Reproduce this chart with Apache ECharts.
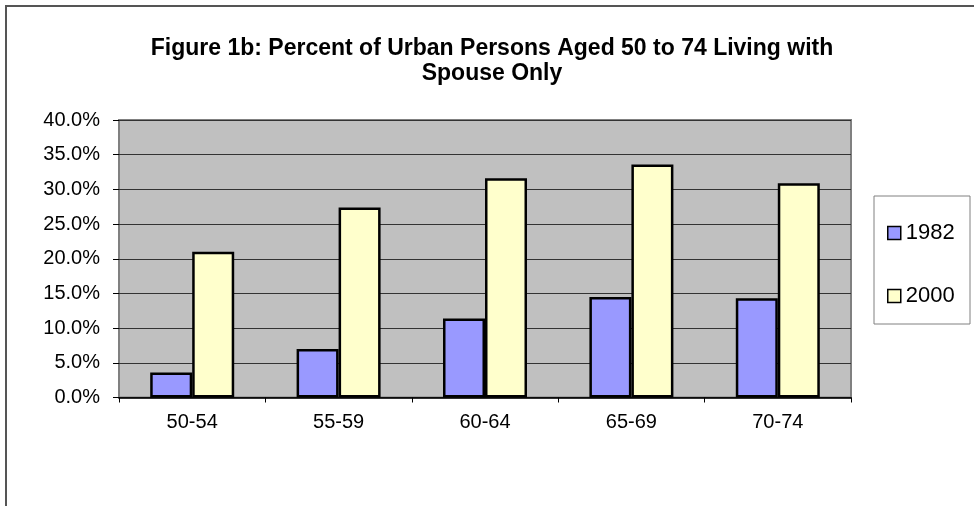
<!DOCTYPE html>
<html>
<head>
<meta charset="utf-8">
<script src="https://cdn.jsdelivr.net/npm/echarts@6/dist/echarts.min.js"></script>
<style>html,body{margin:0;padding:0;background:#fff;}#c{width:974px;height:506px;}</style>
</head>
<body>
<div id="c"></div>
<script>
const categories = ['50-54', '55-59', '60-64', '65-69', '70-74'];
const series1982 = [3.6, 7.0, 11.4, 14.5, 14.3];
const series2000 = [21.0, 27.4, 31.6, 33.6, 30.9];
const seriesNames = ['1982', '2000'];
const titleText = 'Figure 1b: Percent of Urban Persons Aged 50 to 74 Living with\nSpouse Only';

const font = "'Liberation Sans', Arial, sans-serif";
const chart = echarts.init(document.getElementById('c'));
chart.setOption({
  animation: false,
  backgroundColor: '#ffffff',
  title: {
    text: titleText,
    left: 487,
    top: 31,
    textAlign: 'center',
    textStyle: { fontFamily: font, fontSize: 23, fontWeight: 'bold', color: '#000', lineHeight: 25 }
  },
  graphic: [
    { type: 'rect', shape: { x: 6, y: 6, width: 1100, height: 1100 }, style: { fill: 'none', stroke: '#555555', lineWidth: 2 }, z: 0 },
    { type: 'rect', shape: { x: 874, y: 196, width: 96, height: 128 }, style: { fill: '#ffffff', stroke: '#808080', lineWidth: 1 }, z: 1 }
  ],
  legend: {
    orient: 'vertical',
    left: 882,
    top: 217,
    itemWidth: 13,
    itemHeight: 13,
    itemGap: 41,
    icon: 'rect',
    z: 5,
    itemStyle: { borderColor: '#000', borderWidth: 1.5 },
    textStyle: { fontFamily: font, fontSize: 22, color: '#000', lineHeight: 22 },
    data: seriesNames
  },
  grid: {
    left: 119, right: 123, top: 120, bottom: 108.5,
    show: true, backgroundColor: '#C0C0C0', borderColor: '#808080', borderWidth: 2
  },
  xAxis: {
    type: 'category',
    data: categories,
    axisLine: { show: true, lineStyle: { color: '#000', width: 1.5 } },
    axisTick: { show: true, length: 5, lineStyle: { color: '#000' } },
    axisLabel: { fontFamily: font, fontSize: 20, color: '#000', margin: 15 }
  },
  yAxis: {
    type: 'value',
    min: 0, max: 40, interval: 5,
    axisLine: { show: false },
    axisTick: { show: true, length: 6, lineStyle: { color: '#000' } },
    splitLine: { show: true, lineStyle: { color: '#333333', width: 1 } },
    axisLabel: { fontFamily: font, fontSize: 20, color: '#000', margin: 19, formatter: v => v.toFixed(1) + '%' }
  },
  series: [
    { name: seriesNames[0], type: 'bar', data: series1982, barWidth: 42, barGap: '0%',
      itemStyle: { color: '#9999FF', borderColor: '#000', borderWidth: 2.5 } },
    { name: seriesNames[1], type: 'bar', data: series2000, barWidth: 42, barGap: '0%',
      itemStyle: { color: '#FFFFCC', borderColor: '#000', borderWidth: 2.5 } }
  ]
});
</script>
</body>
</html>
